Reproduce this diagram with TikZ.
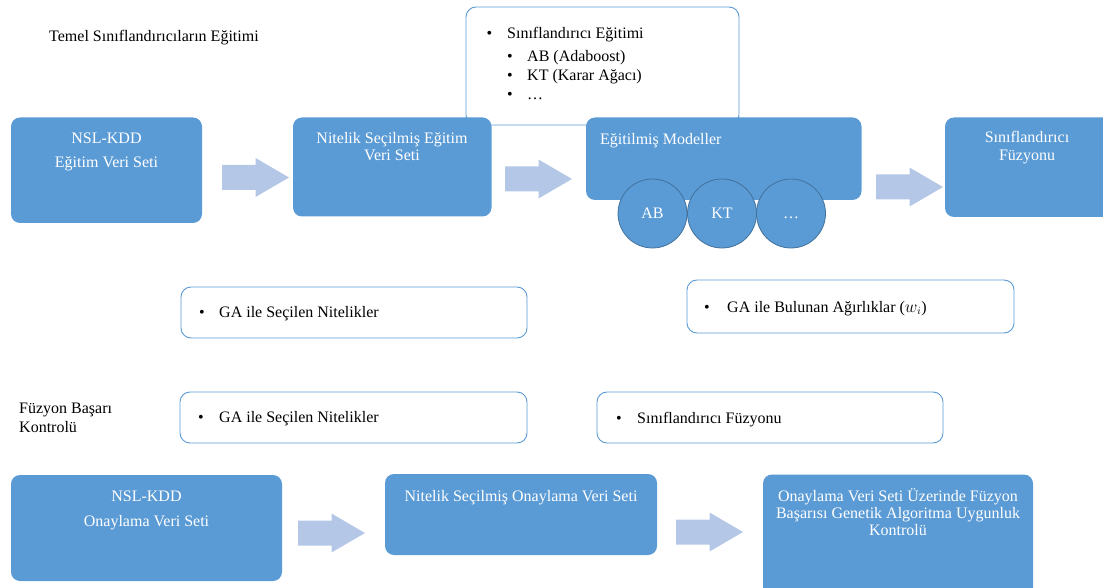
\documentclass[tikz,border=0pt]{standalone}
\usepackage{fontspec}
\setmainfont{Liberation Serif}
\usetikzlibrary{fit}
\definecolor{boxblue}{HTML}{5B9BD5}
\definecolor{darkblue}{HTML}{41719C}
\definecolor{arrowblue}{HTML}{B4C7E7}
\tikzset{
  bluebox/.style={fill=boxblue, draw=none, rounded corners=9pt, inner sep=0pt},
  callout/.style={draw=boxblue, line width=0.9pt, fill=white, rounded corners=10pt, inner sep=0pt},
  modelcircle/.style={circle, fill=boxblue, draw=darkblue, line width=0.8pt, minimum size=69pt, inner sep=0pt, text=white, font=\fontsize{16}{19}\selectfont},
  lbl/.style={inner sep=0pt, font=\fontsize{16}{19}\selectfont, text=black},
  wlbl/.style={lbl, text=white},
  pics/blockarrow/.style={code={\fill[arrowblue] (0,-12.5) -- (33.5,-12.5) -- (33.5,-19.5) -- (67,0) -- (33.5,19.5) -- (33.5,12.5) -- (0,12.5) -- cycle;}},
}
\begin{document}
\begin{tikzpicture}[x=1pt,y=-1pt]
\useasboundingbox (0,0) rectangle (1103,588);
\clip (0,0) rectangle (1103,588);

% title labels
\node[lbl, anchor=base west] (title1) at (49,42) {Temel Sınıflandırıcıların Eğitimi};
\node[lbl, anchor=base west] (title2a) at (19,413) {Füzyon Başarı};
\node[lbl, anchor=base west] (title2b) at (19,432) {Kontrolü};

% top callout (behind boxes)
\node[callout, fit={(466,7) (739,125)}] (top) {};
\node[lbl, anchor=base] (tb1) at (489.5,39) {•};
\node[lbl, anchor=base west] (tt1) at (507,39) {Sınıflandırıcı Eğitimi};
\node[lbl, anchor=base] (tb2) at (510,62) {•};
\node[lbl, anchor=base west] (tt2) at (527,62) {AB (Adaboost)};
\node[lbl, anchor=base] (tb3) at (510,81) {•};
\node[lbl, anchor=base west] (tt3) at (527,81) {KT (Karar Ağacı)};
\node[lbl, anchor=base] (tb4) at (510,100) {•};
\node[lbl, anchor=base west] (tt4) at (527,100) {…};

% top row boxes
\node[bluebox, fit={(11,117.5) (202,223)}] (b1) {};
\node[wlbl, anchor=base] (b1t1) at (106.5,144) {NSL-KDD};
\node[wlbl, anchor=base] (b1t2) at (106.5,168) {Eğitim Veri Seti};

\node[bluebox, fit={(293,117.5) (491.5,216.5)}] (b2) {};
\node[wlbl, anchor=base] (b2t1) at (392,144) {Nitelik Seçilmiş Eğitim};
\node[wlbl, anchor=base] (b2t2) at (392,161) {Veri Seti};

\node[bluebox, fit={(586,117.5) (861.5,200)}] (b3) {};
\node[wlbl, anchor=base west] (b3t) at (600,145) {Eğitilmiş Modeller};
\node[modelcircle] (ab) at (652.5,213.5) {AB};
\node[modelcircle] (kt) at (722,213.5) {KT};
\node[modelcircle] (etc) at (791,213.5) {\vphantom{AB}…};

\node[bluebox, fit={(945,117.5) (1120,217)}] (b4) {};
\node[wlbl, anchor=base] (b4t1) at (1027,143) {Sınıflandırıcı};
\node[wlbl, anchor=base] (b4t2) at (1027,161) {Füzyonu};

\pic (a1) at (222,177.5) {blockarrow};
\pic (a2) at (505,179) {blockarrow};
\pic (a3) at (876,187) {blockarrow};

% middle callouts
\node[callout, fit={(181,287) (527,338)}] (c1) {};
\node[lbl, anchor=base] (c1b) at (202,317) {•};
\node[lbl, anchor=base west] (c1t) at (219,317) {GA ile Seçilen Nitelikler};

\node[callout, fit={(687,280) (1014,333)}] (c2) {};
\node[lbl, anchor=base] (c2b) at (707,312) {•};
\node[lbl, anchor=base west] (c2t) at (727,312) {GA ile Bulunan Ağırlıklar ($w_i$)};

\node[callout, fit={(180,392) (527,443)}] (c3) {};
\node[lbl, anchor=base] (c3b) at (201,422) {•};
\node[lbl, anchor=base west] (c3t) at (219,422) {GA ile Seçilen Nitelikler};

\node[callout, fit={(597,392) (943,443)}] (c4) {};
\node[lbl, anchor=base] (c4b) at (619,423) {•};
\node[lbl, anchor=base west] (c4t) at (637,423) {Sınıflandırıcı Füzyonu};

% bottom row
\node[bluebox, fit={(11,475) (282,581)}] (d1) {};
\node[wlbl, anchor=base] (d1t1) at (146.5,501) {NSL-KDD};
\node[wlbl, anchor=base] (d1t2) at (146.5,526) {Onaylama Veri Seti};

\node[bluebox, fit={(385,474) (657,555)}] (d2) {};
\node[wlbl, anchor=base] (d2t) at (521,501) {Nitelik Seçilmiş Onaylama Veri Seti};

\node[bluebox, fit={(763,474.5) (1033,605)}] (d3) {};
\node[wlbl, anchor=base] (d3t1) at (898,501) {Onaylama Veri Seti Üzerinde Füzyon};
\node[wlbl, anchor=base] (d3t2) at (898,518) {Başarısı Genetik Algoritma Uygunluk};
\node[wlbl, anchor=base] (d3t3) at (898,535) {Kontrolü};

\pic (a4) at (298,533) {blockarrow};
\pic (a5) at (676,532) {blockarrow};
\end{tikzpicture}
\end{document}
